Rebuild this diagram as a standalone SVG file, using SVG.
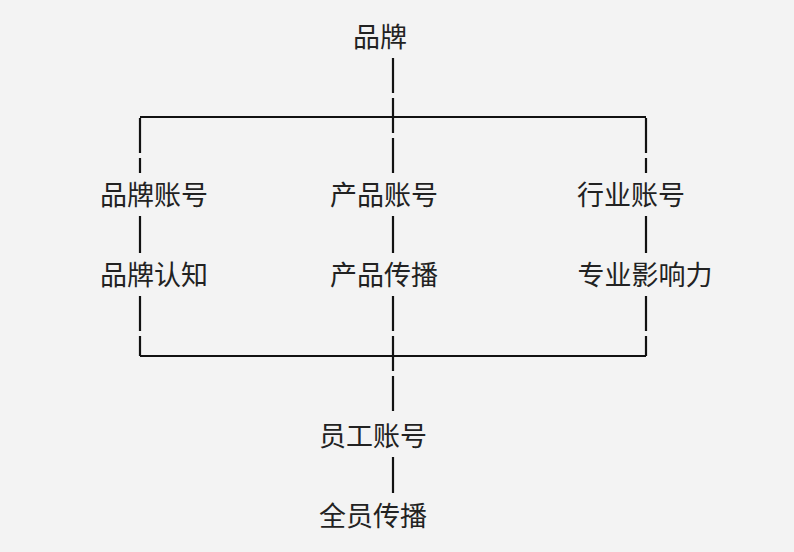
<svg xmlns="http://www.w3.org/2000/svg" width="794" height="552" viewBox="0 0 794 552">
<style>
text{font-family:"Noto Sans CJK SC","Noto Sans",sans-serif;font-size:27px;fill:#222;text-anchor:middle;dominant-baseline:central}
.l{stroke:#111;stroke-width:2.2;fill:none}
.d{stroke-dasharray:35 5}
</style>
<rect width="794" height="552" fill="#f3f3f3"/>
<g id="connectors">
<path class="l" d="M140 117H646M140 356H646"/>
<path class="l d" d="M393 58V173M140 118V173M646 118V173"/>
<path class="l" d="M140 216V253M393 216V253M646 216V253"/>
<path class="l d" d="M140 296V356M393 296V415M646 296V356"/>
<path class="l" d="M393 457V493"/>
</g>
<g id="n0"><text x="380" y="35">品牌</text></g>
<g id="n1"><text x="154" y="193">品牌账号</text></g>
<g id="n2"><text x="384" y="193">产品账号</text></g>
<g id="n3"><text x="631" y="193">行业账号</text></g>
<g id="n4"><text x="154" y="273">品牌认知</text></g>
<g id="n5"><text x="384" y="273">产品传播</text></g>
<g id="n6"><text x="645" y="273">专业影响力</text></g>
<g id="n7"><text x="373" y="434">员工账号</text></g>
<g id="n8"><text x="373" y="514">全员传播</text></g>
</svg>
